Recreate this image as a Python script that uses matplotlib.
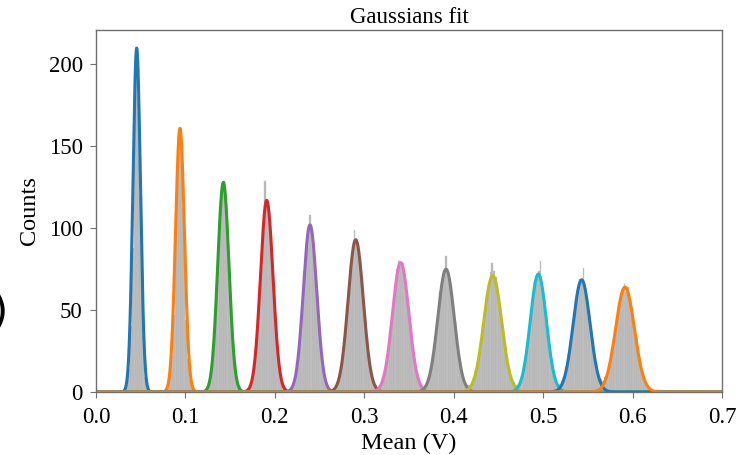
import numpy as np
import matplotlib
matplotlib.use("Agg")
import matplotlib.pyplot as plt

plt.rcParams['font.family'] = ['Liberation Serif', 'DejaVu Serif']

# parametros de los ajustes gaussianos (media, sigma, amplitud)
medias = [0.0455, 0.0939, 0.1424, 0.1909, 0.2393, 0.2904,
          0.3407, 0.3914, 0.4436, 0.4946, 0.5430, 0.5915]
sigmas = [0.0042, 0.0050, 0.0063, 0.0070, 0.0075, 0.0085,
          0.0092, 0.0092, 0.0100, 0.0090, 0.0095, 0.0105]
amplitudes = [210, 161, 128, 117, 102, 93, 79, 75, 71, 72, 68.5, 64]

# histograma: borde izquierdo de cada pico y cuentas por bin (ancho 0.002 V)
ancho_bin = 0.002
inicio_picos = [0.034, 0.080, 0.124, 0.170, 0.216, 0.264,
                0.312, 0.362, 0.412, 0.466, 0.514, 0.560]
cuentas_picos = [
    [4, 14, 40, 88, 150, 205, 180, 120, 64, 28, 9, 3],
    [3, 9, 22, 47, 80, 120, 158, 150, 113, 76, 44, 20, 8, 3],
    [3, 7, 12, 26, 40, 66, 86, 113, 124, 129, 115, 100, 72, 52, 29, 18, 8, 4, 2],
    [2, 4, 9, 17, 27, 44, 60, 84, 99, 129, 116, 110, 99, 78, 62, 40, 27, 14, 8, 4, 2],
    [1, 3, 6, 9, 18, 26, 41, 53, 74, 85, 99, 108, 97, 91, 74, 62, 43, 31, 18, 12, 6, 3, 2],
    [1, 2, 4, 6, 12, 17, 28, 37, 52, 62, 78, 85, 99, 92, 90, 78, 70, 54, 45, 33, 24, 13, 8, 5, 3, 1],
    [1, 2, 3, 5, 9, 11, 19, 25, 37, 43, 57, 63, 75, 80, 77, 79, 70, 63, 51, 43, 31, 25, 16, 11, 7, 4, 2, 1],
    [1, 1, 2, 4, 6, 11, 14, 23, 29, 41, 49, 61, 66, 74, 83, 73, 70, 60, 54, 43, 35, 24, 19, 11, 8, 5, 3, 2, 1],
    [1, 1, 2, 3, 5, 9, 14, 17, 25, 31, 41, 47, 60, 66, 73, 79, 74, 70, 62, 55, 44, 38, 28, 23, 15, 11, 7, 5, 3, 2, 1],
    [1, 1, 2, 4, 7, 10, 17, 22, 32, 40, 52, 57, 68, 70, 74, 80, 63, 57, 46, 38, 27, 21, 13, 9, 5, 3, 2, 1],
    [1, 2, 3, 6, 9, 15, 16, 24, 30, 41, 47, 57, 62, 69, 67, 76, 64, 58, 50, 40, 32, 22, 18, 10, 8, 5, 3, 2, 1],
    [1, 2, 3, 4, 7, 9, 15, 18, 26, 30, 40, 45, 54, 57, 63, 66, 61, 64, 57, 51, 42, 36, 27, 22, 15, 12, 7, 5, 3, 2, 1],
]

# se juntan las cuentas en un solo arreglo de bins de 0 a 0.7
n_bins = int(round(0.7 / ancho_bin))
cuentas = np.zeros(n_bins)
for inicio, valores in zip(inicio_picos, cuentas_picos):
    i0 = int(round(inicio / ancho_bin))
    cuentas[i0:i0 + len(valores)] += valores
centros = (np.arange(n_bins) + 0.5) * ancho_bin

fig = plt.figure(figsize=(7.5, 4.55), dpi=100)
ax = fig.add_axes([0.128, 0.1385, 0.8347, 0.7955])

ax.bar(centros, cuentas, width=ancho_bin, color='#b5b5b5', edgecolor='#c8c8c8', linewidth=0.3)

colores = plt.rcParams['axes.prop_cycle'].by_key()['color']
x = np.linspace(0, 0.7, 3000)
for k, (mu, s, a) in enumerate(zip(medias, sigmas, amplitudes)):
    y = a * np.exp(-(x - mu) ** 2 / (2 * s ** 2))
    ax.plot(x, y, color=colores[k % len(colores)], linewidth=2.2)

ax.set_xlim(0, 0.7)
ax.set_ylim(0, 221)
ax.set_xticks(np.arange(0, 0.71, 0.1))
ax.set_yticks([0, 50, 100, 150, 200])
ax.set_xlabel('Mean (V)', fontsize=17.5, labelpad=4)
ax.set_ylabel('Counts', fontsize=17.5, labelpad=6)
ax.set_title('Gaussians fit', fontsize=16.5, pad=5)
ax.tick_params(labelsize=16.5, direction='out', length=4.5, color='#707070')
ax.tick_params(axis='x', pad=6)
ax.tick_params(axis='y', pad=5)
for lado in ax.spines.values():
    lado.set_color('#707070')
    lado.set_linewidth(1.0)

# resto de la etiqueta del panel, cortada en el borde
fig.text(0.0, 0.312, ')', fontsize=30, ha='center', va='center', family='DejaVu Sans')

fig.savefig('out.png', dpi=100)
